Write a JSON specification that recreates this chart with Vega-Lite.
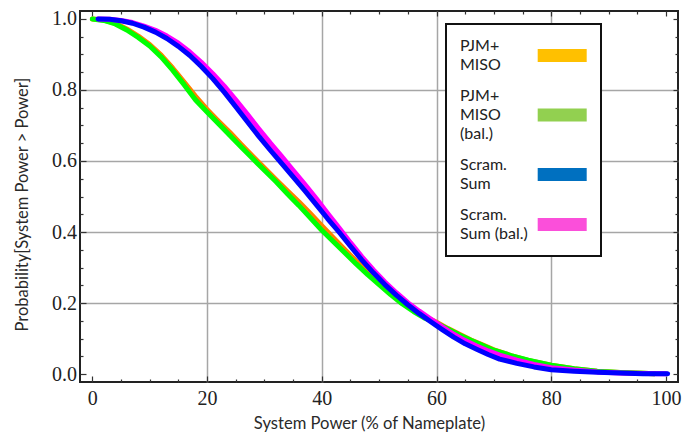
{
  "$schema": "https://vega.github.io/schema/vega-lite/v6.json",
  "width": 598,
  "height": 371,
  "autosize": {"type": "none"},
  "padding": {"left": 80, "top": 11, "right": 5, "bottom": 51},
  "background": "white",
  "config": {"view": {"stroke": "#222222", "strokeWidth": 2}},
  "data": {"values": [
    {"series": "PJM+MISO", "x": 0, "y": 1.0}, {"series": "PJM+MISO", "x": 2, "y": 0.997}, {"series": "PJM+MISO", "x": 4, "y": 0.988}, {"series": "PJM+MISO", "x": 6, "y": 0.972}, {"series": "PJM+MISO", "x": 8, "y": 0.952}, {"series": "PJM+MISO", "x": 10, "y": 0.928}, {"series": "PJM+MISO", "x": 12, "y": 0.898}, {"series": "PJM+MISO", "x": 14, "y": 0.862}, {"series": "PJM+MISO", "x": 16, "y": 0.822}, {"series": "PJM+MISO", "x": 18, "y": 0.782}, {"series": "PJM+MISO", "x": 20, "y": 0.745}, {"series": "PJM+MISO", "x": 22, "y": 0.712}, {"series": "PJM+MISO", "x": 24, "y": 0.68}, {"series": "PJM+MISO", "x": 26, "y": 0.646}, {"series": "PJM+MISO", "x": 28, "y": 0.613}, {"series": "PJM+MISO", "x": 30, "y": 0.58}, {"series": "PJM+MISO", "x": 32, "y": 0.548}, {"series": "PJM+MISO", "x": 34, "y": 0.516}, {"series": "PJM+MISO", "x": 36, "y": 0.485}, {"series": "PJM+MISO", "x": 38, "y": 0.452}, {"series": "PJM+MISO", "x": 40, "y": 0.418}, {"series": "PJM+MISO", "x": 42, "y": 0.384}, {"series": "PJM+MISO", "x": 44, "y": 0.351}, {"series": "PJM+MISO", "x": 46, "y": 0.318}, {"series": "PJM+MISO", "x": 48, "y": 0.287}, {"series": "PJM+MISO", "x": 50, "y": 0.257}, {"series": "PJM+MISO", "x": 52, "y": 0.229}, {"series": "PJM+MISO", "x": 54, "y": 0.204}, {"series": "PJM+MISO", "x": 56, "y": 0.182}, {"series": "PJM+MISO", "x": 58, "y": 0.162}, {"series": "PJM+MISO", "x": 60, "y": 0.146}, {"series": "PJM+MISO", "x": 62, "y": 0.128}, {"series": "PJM+MISO", "x": 64, "y": 0.112}, {"series": "PJM+MISO", "x": 66, "y": 0.096}, {"series": "PJM+MISO", "x": 68, "y": 0.082}, {"series": "PJM+MISO", "x": 70, "y": 0.068}, {"series": "PJM+MISO", "x": 73, "y": 0.052}, {"series": "PJM+MISO", "x": 76, "y": 0.038}, {"series": "PJM+MISO", "x": 80, "y": 0.025}, {"series": "PJM+MISO", "x": 84, "y": 0.015}, {"series": "PJM+MISO", "x": 88, "y": 0.008}, {"series": "PJM+MISO", "x": 92, "y": 0.004}, {"series": "PJM+MISO", "x": 96, "y": 0.002}, {"series": "PJM+MISO", "x": 98, "y": 0.001},
    {"series": "PJM+MISO (bal.)", "x": 0, "y": 1.0}, {"series": "PJM+MISO (bal.)", "x": 2, "y": 0.996}, {"series": "PJM+MISO (bal.)", "x": 4, "y": 0.986}, {"series": "PJM+MISO (bal.)", "x": 6, "y": 0.969}, {"series": "PJM+MISO (bal.)", "x": 8, "y": 0.948}, {"series": "PJM+MISO (bal.)", "x": 10, "y": 0.924}, {"series": "PJM+MISO (bal.)", "x": 12, "y": 0.893}, {"series": "PJM+MISO (bal.)", "x": 14, "y": 0.856}, {"series": "PJM+MISO (bal.)", "x": 16, "y": 0.815}, {"series": "PJM+MISO (bal.)", "x": 18, "y": 0.772}, {"series": "PJM+MISO (bal.)", "x": 20, "y": 0.738}, {"series": "PJM+MISO (bal.)", "x": 22, "y": 0.705}, {"series": "PJM+MISO (bal.)", "x": 24, "y": 0.672}, {"series": "PJM+MISO (bal.)", "x": 26, "y": 0.639}, {"series": "PJM+MISO (bal.)", "x": 28, "y": 0.606}, {"series": "PJM+MISO (bal.)", "x": 30, "y": 0.574}, {"series": "PJM+MISO (bal.)", "x": 32, "y": 0.542}, {"series": "PJM+MISO (bal.)", "x": 34, "y": 0.508}, {"series": "PJM+MISO (bal.)", "x": 36, "y": 0.475}, {"series": "PJM+MISO (bal.)", "x": 38, "y": 0.44}, {"series": "PJM+MISO (bal.)", "x": 40, "y": 0.405}, {"series": "PJM+MISO (bal.)", "x": 42, "y": 0.373}, {"series": "PJM+MISO (bal.)", "x": 44, "y": 0.342}, {"series": "PJM+MISO (bal.)", "x": 46, "y": 0.31}, {"series": "PJM+MISO (bal.)", "x": 48, "y": 0.28}, {"series": "PJM+MISO (bal.)", "x": 50, "y": 0.252}, {"series": "PJM+MISO (bal.)", "x": 52, "y": 0.224}, {"series": "PJM+MISO (bal.)", "x": 54, "y": 0.198}, {"series": "PJM+MISO (bal.)", "x": 56, "y": 0.176}, {"series": "PJM+MISO (bal.)", "x": 58, "y": 0.157}, {"series": "PJM+MISO (bal.)", "x": 60, "y": 0.143}, {"series": "PJM+MISO (bal.)", "x": 62, "y": 0.127}, {"series": "PJM+MISO (bal.)", "x": 64, "y": 0.11}, {"series": "PJM+MISO (bal.)", "x": 66, "y": 0.095}, {"series": "PJM+MISO (bal.)", "x": 68, "y": 0.081}, {"series": "PJM+MISO (bal.)", "x": 70, "y": 0.067}, {"series": "PJM+MISO (bal.)", "x": 73, "y": 0.052}, {"series": "PJM+MISO (bal.)", "x": 76, "y": 0.039}, {"series": "PJM+MISO (bal.)", "x": 80, "y": 0.025}, {"series": "PJM+MISO (bal.)", "x": 84, "y": 0.015}, {"series": "PJM+MISO (bal.)", "x": 88, "y": 0.008}, {"series": "PJM+MISO (bal.)", "x": 92, "y": 0.004}, {"series": "PJM+MISO (bal.)", "x": 96, "y": 0.002}, {"series": "PJM+MISO (bal.)", "x": 98, "y": 0.001},
    {"series": "Scram. Sum", "x": 1, "y": 1.0}, {"series": "Scram. Sum", "x": 3, "y": 0.999}, {"series": "Scram. Sum", "x": 5, "y": 0.995}, {"series": "Scram. Sum", "x": 7, "y": 0.988}, {"series": "Scram. Sum", "x": 9, "y": 0.977}, {"series": "Scram. Sum", "x": 11, "y": 0.963}, {"series": "Scram. Sum", "x": 13, "y": 0.945}, {"series": "Scram. Sum", "x": 15, "y": 0.923}, {"series": "Scram. Sum", "x": 17, "y": 0.897}, {"series": "Scram. Sum", "x": 19, "y": 0.866}, {"series": "Scram. Sum", "x": 21, "y": 0.832}, {"series": "Scram. Sum", "x": 23, "y": 0.794}, {"series": "Scram. Sum", "x": 25, "y": 0.753}, {"series": "Scram. Sum", "x": 27, "y": 0.711}, {"series": "Scram. Sum", "x": 29, "y": 0.67}, {"series": "Scram. Sum", "x": 31, "y": 0.631}, {"series": "Scram. Sum", "x": 33, "y": 0.593}, {"series": "Scram. Sum", "x": 35, "y": 0.555}, {"series": "Scram. Sum", "x": 37, "y": 0.517}, {"series": "Scram. Sum", "x": 39, "y": 0.478}, {"series": "Scram. Sum", "x": 41, "y": 0.438}, {"series": "Scram. Sum", "x": 43, "y": 0.4}, {"series": "Scram. Sum", "x": 45, "y": 0.36}, {"series": "Scram. Sum", "x": 47, "y": 0.321}, {"series": "Scram. Sum", "x": 49, "y": 0.285}, {"series": "Scram. Sum", "x": 51, "y": 0.252}, {"series": "Scram. Sum", "x": 53, "y": 0.222}, {"series": "Scram. Sum", "x": 55, "y": 0.195}, {"series": "Scram. Sum", "x": 57, "y": 0.17}, {"series": "Scram. Sum", "x": 59, "y": 0.147}, {"series": "Scram. Sum", "x": 61, "y": 0.125}, {"series": "Scram. Sum", "x": 63, "y": 0.104}, {"series": "Scram. Sum", "x": 65, "y": 0.085}, {"series": "Scram. Sum", "x": 67, "y": 0.07}, {"series": "Scram. Sum", "x": 69, "y": 0.055}, {"series": "Scram. Sum", "x": 71, "y": 0.042}, {"series": "Scram. Sum", "x": 74, "y": 0.03}, {"series": "Scram. Sum", "x": 77, "y": 0.02}, {"series": "Scram. Sum", "x": 80, "y": 0.012}, {"series": "Scram. Sum", "x": 84, "y": 0.008}, {"series": "Scram. Sum", "x": 88, "y": 0.005}, {"series": "Scram. Sum", "x": 92, "y": 0.003}, {"series": "Scram. Sum", "x": 96, "y": 0.001}, {"series": "Scram. Sum", "x": 100.3, "y": 0.0005},
    {"series": "Scram. Sum (bal.)", "x": 1, "y": 1.0}, {"series": "Scram. Sum (bal.)", "x": 3, "y": 0.999}, {"series": "Scram. Sum (bal.)", "x": 5, "y": 0.996}, {"series": "Scram. Sum (bal.)", "x": 7, "y": 0.99}, {"series": "Scram. Sum (bal.)", "x": 9, "y": 0.98}, {"series": "Scram. Sum (bal.)", "x": 11, "y": 0.968}, {"series": "Scram. Sum (bal.)", "x": 13, "y": 0.952}, {"series": "Scram. Sum (bal.)", "x": 15, "y": 0.932}, {"series": "Scram. Sum (bal.)", "x": 17, "y": 0.907}, {"series": "Scram. Sum (bal.)", "x": 19, "y": 0.878}, {"series": "Scram. Sum (bal.)", "x": 21, "y": 0.846}, {"series": "Scram. Sum (bal.)", "x": 23, "y": 0.811}, {"series": "Scram. Sum (bal.)", "x": 25, "y": 0.772}, {"series": "Scram. Sum (bal.)", "x": 27, "y": 0.732}, {"series": "Scram. Sum (bal.)", "x": 29, "y": 0.691}, {"series": "Scram. Sum (bal.)", "x": 31, "y": 0.651}, {"series": "Scram. Sum (bal.)", "x": 33, "y": 0.613}, {"series": "Scram. Sum (bal.)", "x": 35, "y": 0.574}, {"series": "Scram. Sum (bal.)", "x": 37, "y": 0.535}, {"series": "Scram. Sum (bal.)", "x": 39, "y": 0.495}, {"series": "Scram. Sum (bal.)", "x": 41, "y": 0.453}, {"series": "Scram. Sum (bal.)", "x": 43, "y": 0.412}, {"series": "Scram. Sum (bal.)", "x": 45, "y": 0.37}, {"series": "Scram. Sum (bal.)", "x": 47, "y": 0.33}, {"series": "Scram. Sum (bal.)", "x": 49, "y": 0.293}, {"series": "Scram. Sum (bal.)", "x": 51, "y": 0.259}, {"series": "Scram. Sum (bal.)", "x": 53, "y": 0.229}, {"series": "Scram. Sum (bal.)", "x": 55, "y": 0.201}, {"series": "Scram. Sum (bal.)", "x": 57, "y": 0.177}, {"series": "Scram. Sum (bal.)", "x": 59, "y": 0.155}, {"series": "Scram. Sum (bal.)", "x": 61, "y": 0.133}, {"series": "Scram. Sum (bal.)", "x": 63, "y": 0.112}, {"series": "Scram. Sum (bal.)", "x": 65, "y": 0.094}, {"series": "Scram. Sum (bal.)", "x": 67, "y": 0.079}, {"series": "Scram. Sum (bal.)", "x": 69, "y": 0.065}, {"series": "Scram. Sum (bal.)", "x": 71, "y": 0.053}, {"series": "Scram. Sum (bal.)", "x": 74, "y": 0.039}, {"series": "Scram. Sum (bal.)", "x": 77, "y": 0.027}, {"series": "Scram. Sum (bal.)", "x": 80, "y": 0.018}, {"series": "Scram. Sum (bal.)", "x": 84, "y": 0.011}, {"series": "Scram. Sum (bal.)", "x": 88, "y": 0.006}, {"series": "Scram. Sum (bal.)", "x": 92, "y": 0.003}, {"series": "Scram. Sum (bal.)", "x": 96, "y": 0.0015}, {"series": "Scram. Sum (bal.)", "x": 100, "y": 0.0008}
  ]},
  "resolve": {"axis": {"x": "independent", "y": "independent"}},
  "layer": [
    {
      "transform": [{"filter": "datum.series == 'PJM+MISO'"}],
      "mark": {"type": "line", "color": "#FF8000", "strokeWidth": 5, "strokeCap": "round", "strokeJoin": "round"},
      "encoding": {
        "x": {"field": "x", "type": "quantitative", "scale": {"domain": [-2.15, 102.1], "nice": false, "zero": false},
          "axis": {"orient": "bottom", "values": [0,5,10,15,20,25,30,35,40,45,50,55,60,65,70,75,80,85,90,95,100],
            "labelExpr": "datum.value % 20 == 0 ? format(datum.value, 'd') : ''",
            "tickSize": {"condition": {"test": "datum.value % 20 == 0", "value": -6}, "value": -3},
            "tickColor": "#333333", "tickWidth": 1.2,
            "grid": true, "gridColor": "#a6a6a6", "gridWidth": 1.5,
            "gridOpacity": {"condition": {"test": "datum.value % 20 == 0 && datum.value > 0 && datum.value < 100", "value": 1}, "value": 0},
            "domain": false, "labelFont": "Liberation Serif", "labelFontSize": 20, "labelColor": "#222222", "labelPadding": 12,
            "labelFlush": false, "labelOverlap": false, "labelBound": false,
            "title": "System Power (% of Nameplate)", "titleFont": "Lato", "titleFontSize": 16.6, "titleFontWeight": "normal", "titleColor": "#2a2a2a",
            "titleX": 289, "titleY": 46.5, "titleBaseline": "alphabetic", "titleAlign": "center"}},
        "y": {"field": "y", "type": "quantitative", "scale": {"domain": [-0.0225, 1.0225], "nice": false, "zero": false},
          "axis": {"orient": "left", "values": [0,0.05,0.1,0.15,0.2,0.25,0.3,0.35,0.4,0.45,0.5,0.55,0.6,0.65,0.7,0.75,0.8,0.85,0.9,0.95,1.0],
            "labelExpr": "abs(datum.value*5 - round(datum.value*5)) < 0.001 ? format(datum.value, '.1f') : ''",
            "tickSize": {"condition": {"test": "abs(datum.value*5 - round(datum.value*5)) < 0.001", "value": -6}, "value": -3},
            "tickColor": "#333333", "tickWidth": 1.2,
            "grid": true, "gridColor": "#a6a6a6", "gridWidth": 1.5,
            "gridOpacity": {"condition": {"test": "abs(datum.value*5 - round(datum.value*5)) < 0.001 && datum.value > 0.01 && datum.value < 0.99", "value": 1}, "value": 0},
            "domain": false, "labelFont": "Liberation Serif", "labelFontSize": 20, "labelColor": "#222222", "labelPadding": 9.5,
            "labelFlush": false, "labelOverlap": false, "labelBound": false,
            "title": "Probability[System Power > Power]", "titleFont": "Lato", "titleFontSize": 16.5, "titleFontWeight": "normal", "titleColor": "#2a2a2a",
            "titleX": -53, "titleY": 193, "titleBaseline": "alphabetic", "titleAlign": "center", "titleAngle": 270}}
      }
    },
    {
      "transform": [{"filter": "datum.series == 'PJM+MISO (bal.)'"}],
      "mark": {"type": "line", "color": "#00FF00", "strokeWidth": 5, "strokeCap": "round", "strokeJoin": "round"},
      "encoding": {
        "x": {"field": "x", "type": "quantitative", "scale": {"domain": [-2.15, 102.1], "nice": false, "zero": false},
          "axis": {"orient": "top", "values": [0,5,10,15,20,25,30,35,40,45,50,55,60,65,70,75,80,85,90,95,100],
            "labels": false, "grid": false, "domain": false, "title": null,
            "tickSize": {"condition": {"test": "datum.value % 20 == 0", "value": -5}, "value": -3},
            "tickColor": "#333333", "tickWidth": 1.2}},
        "y": {"field": "y", "type": "quantitative", "scale": {"domain": [-0.0225, 1.0225], "nice": false, "zero": false},
          "axis": {"orient": "right", "values": [0,0.05,0.1,0.15,0.2,0.25,0.3,0.35,0.4,0.45,0.5,0.55,0.6,0.65,0.7,0.75,0.8,0.85,0.9,0.95,1.0],
            "labels": false, "grid": false, "domain": false, "title": null,
            "tickSize": {"condition": {"test": "abs(datum.value*5 - round(datum.value*5)) < 0.001", "value": -5}, "value": -3},
            "tickColor": "#333333", "tickWidth": 1.2}}
      }
    },
    {
      "transform": [{"filter": "datum.series == 'Scram. Sum (bal.)'"}],
      "mark": {"type": "line", "color": "#FF00FF", "strokeWidth": 5, "strokeCap": "round", "strokeJoin": "round"},
      "encoding": {
        "x": {"field": "x", "type": "quantitative", "scale": {"domain": [-2.15, 102.1], "nice": false, "zero": false}, "axis": null},
        "y": {"field": "y", "type": "quantitative", "scale": {"domain": [-0.0225, 1.0225], "nice": false, "zero": false}, "axis": null}
      }
    },
    {
      "transform": [{"filter": "datum.series == 'Scram. Sum'"}],
      "mark": {"type": "line", "color": "#0000FF", "strokeWidth": 5, "strokeCap": "round", "strokeJoin": "round"},
      "encoding": {
        "x": {"field": "x", "type": "quantitative", "scale": {"domain": [-2.15, 102.1], "nice": false, "zero": false}, "axis": null},
        "y": {"field": "y", "type": "quantitative", "scale": {"domain": [-0.0225, 1.0225], "nice": false, "zero": false}, "axis": null}
      }
    },
    {
      "transform": [{"filter": "false"}],
      "mark": {"type": "point", "filled": true},
      "encoding": {
        "x": {"field": "x", "type": "quantitative", "scale": {"domain": [-2.15, 102.1], "nice": false, "zero": false}, "axis": null},
        "y": {"field": "y", "type": "quantitative", "scale": {"domain": [-0.0225, 1.0225], "nice": false, "zero": false}, "axis": null},
        "fill": {"field": "series", "type": "nominal",
          "scale": {"domain": ["PJM+MISO", "PJM+MISO (bal.)", "Scram. Sum", "Scram. Sum (bal.)"], "range": ["#FFC000", "#92D050", "#0070C0", "#FB4FDA"]},
          "legend": {"orient": "none", "legendX": 366, "legendY": 13, "title": null, "direction": "vertical",
            "symbolType": "M-3.77,-1H3.77V1H-3.77Z", "symbolSize": 169, "symbolStrokeWidth": 0, "symbolOpacity": 1,
            "symbolOffset": 94.2, "labelOffset": -110.2,
            "labelFont": "Lato", "labelFontSize": 16, "labelColor": "#222222", "labelLimit": 300,
            "labelExpr": "datum.label == 'PJM+MISO' ? ['PJM+','MISO'] : datum.label == 'PJM+MISO (bal.)' ? ['PJM+','MISO','(bal.)'] : datum.label == 'Scram. Sum' ? ['Scram.','Sum'] : ['Scram.','Sum (bal.)']",
            "rowPadding": 15, "padding": 14, "strokeColor": "#111111", "fillColor": "#ffffff",
            "encode": {
              "legend": {"update": {"strokeWidth": {"value": 2}}},
              "labels": {"update": {"lineHeight": {"value": 19}}},
              "symbols": {"update": {"y": {"signal": "datum.value == 'PJM+MISO (bal.)' ? 27 : 17.5"}}}}}}
      }
    }
  ]
}
